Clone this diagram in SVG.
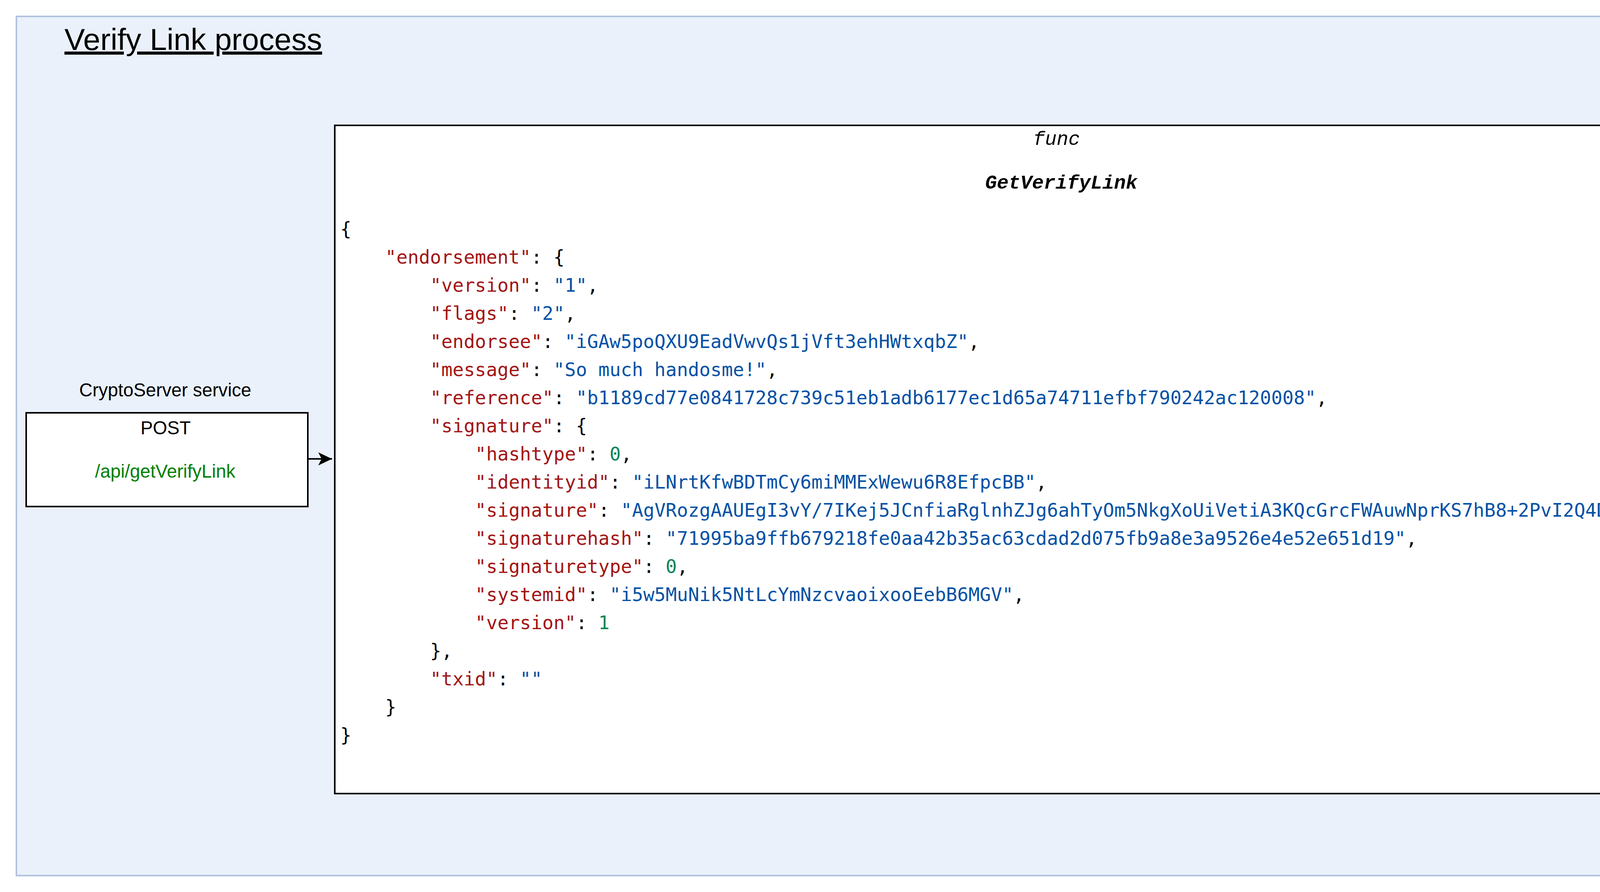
<svg xmlns="http://www.w3.org/2000/svg" width="6164" height="2284" viewBox="0 0 6164 2284">
<style>
.sans{font-family:"Liberation Sans",Arial,sans-serif;font-size:47.2px;fill:#000}
.mono{font-family:"DejaVu Sans Mono",monospace;font-size:47.7px;fill:#000}
.cour{font-family:"Liberation Mono","Courier New",monospace;fill:#000}
.k{fill:#a31515}
.s{fill:#0451a5}
.n{fill:#098658}
.box{fill:#fff;stroke:#000;stroke-width:4}
.edge{fill:none;stroke:#000;stroke-width:4}
</style>
<defs>
<marker id="arr" markerUnits="userSpaceOnUse" markerWidth="40" markerHeight="40" viewBox="-40 -20 42 40" refX="0" refY="0" orient="auto">
<path d="M0,0 L-37,-17.5 L-28,0 L-37,17.5 Z" fill="#000"/>
</marker>
</defs>
<g id="container">
<rect x="42" y="42" width="6079" height="2200" fill="#eaf1fb" stroke="#b0c4de" stroke-width="4"/>
<text x="165" y="128" font-family="'Liberation Sans',Arial,sans-serif" font-size="78.6" text-decoration="underline">Verify Link process</text>
</g>
<g id="post">
<text class="sans" x="423" y="1015" text-anchor="middle">CryptoServer service</text>
<rect class="box" x="67" y="1057" width="721" height="240"/>
<text class="sans" x="424" y="1112" text-anchor="middle">POST</text>
<text class="sans" x="423" y="1223" text-anchor="middle" style="fill:#008000">/api/getVerifyLink</text>
</g>
<g id="func">
<rect class="box" x="857" y="321" width="3720" height="1711"/>
<text class="cour" x="2705" y="371" font-size="50" font-style="italic" text-anchor="middle">func</text>
<text class="cour" x="2717" y="483" font-size="50" font-style="italic" font-weight="bold" text-anchor="middle">GetVerifyLink</text>
<g class="mono">
<text x="871" y="603">{</text>
<text x="986" y="675"><tspan class="k">"endorsement"</tspan>: {</text>
<text x="1101" y="747"><tspan class="k">"version"</tspan>: <tspan class="s">"1"</tspan>,</text>
<text x="1101" y="819"><tspan class="k">"flags"</tspan>: <tspan class="s">"2"</tspan>,</text>
<text x="1101" y="891"><tspan class="k">"endorsee"</tspan>: <tspan class="s">"iGAw5poQXU9EadVwvQs1jVft3ehHWtxqbZ"</tspan>,</text>
<text x="1101" y="963"><tspan class="k">"message"</tspan>: <tspan class="s">"So much handosme!"</tspan>,</text>
<text x="1101" y="1035"><tspan class="k">"reference"</tspan>: <tspan class="s">"b1189cd77e0841728c739c51eb1adb6177ec1d65a74711efbf790242ac120008"</tspan>,</text>
<text x="1101" y="1107"><tspan class="k">"signature"</tspan>: {</text>
<text x="1216" y="1179"><tspan class="k">"hashtype"</tspan>: <tspan class="n">0</tspan>,</text>
<text x="1216" y="1251"><tspan class="k">"identityid"</tspan>: <tspan class="s">"iLNrtKfwBDTmCy6miMMExWewu6R8EfpcBB"</tspan>,</text>
<text x="1216" y="1323"><tspan class="k">"signature"</tspan>: <tspan class="s">"AgVRozgAAUEgI3vY/7IKej5JCnfiaRglnhZJg6ahTyOm5NkgXoUiVetiA3KQcGrcFWAuwNprKS7hB8+2PvI2Q4DQyZe9a6+m9Q=="</tspan>,</text>
<text x="1216" y="1395"><tspan class="k">"signaturehash"</tspan>: <tspan class="s">"71995ba9ffb679218fe0aa42b35ac63cdad2d075fb9a8e3a9526e4e52e651d19"</tspan>,</text>
<text x="1216" y="1467"><tspan class="k">"signaturetype"</tspan>: <tspan class="n">0</tspan>,</text>
<text x="1216" y="1539"><tspan class="k">"systemid"</tspan>: <tspan class="s">"i5w5MuNik5NtLcYmNzcvaoixooEebB6MGV"</tspan>,</text>
<text x="1216" y="1611"><tspan class="k">"version"</tspan>: <tspan class="n">1</tspan></text>
<text x="1101" y="1683">},</text>
<text x="1101" y="1755"><tspan class="k">"txid"</tspan>: <tspan class="s">""</tspan></text>
<text x="986" y="1827">}</text>
<text x="871" y="1899">}</text>
</g>
</g>
<g id="resp">
<rect class="box" x="4803" y="917" width="1198" height="520"/>
<text class="sans" x="5395" y="959" text-anchor="middle">resp:</text>
<g class="mono">
<text x="5126" y="1080"><tspan class="k">"hash"</tspan>: <tspan class="s">string</tspan>,</text>
<text x="5126" y="1152"><tspan class="k">"identityName"</tspan>: <tspan class="s">string</tspan>,</text>
<text x="5126" y="1224"><tspan class="k">"signature"</tspan>: <tspan class="s">string</tspan>,</text>
<text x="5126" y="1295"><tspan class="k">"verifyLink"</tspan>: <tspan class="s">string</tspan>,</text>
<text x="5126" y="1367"><tspan class="k">"error"</tspan>: <tspan class="s">string</tspan></text>
</g>
</g>
<g id="connectors">
<path class="edge" d="M788,1175 L850,1175" marker-end="url(#arr)"/>
<path class="edge" d="M4577,1176 L4795,1176" marker-end="url(#arr)"/>
</g>
</svg>
